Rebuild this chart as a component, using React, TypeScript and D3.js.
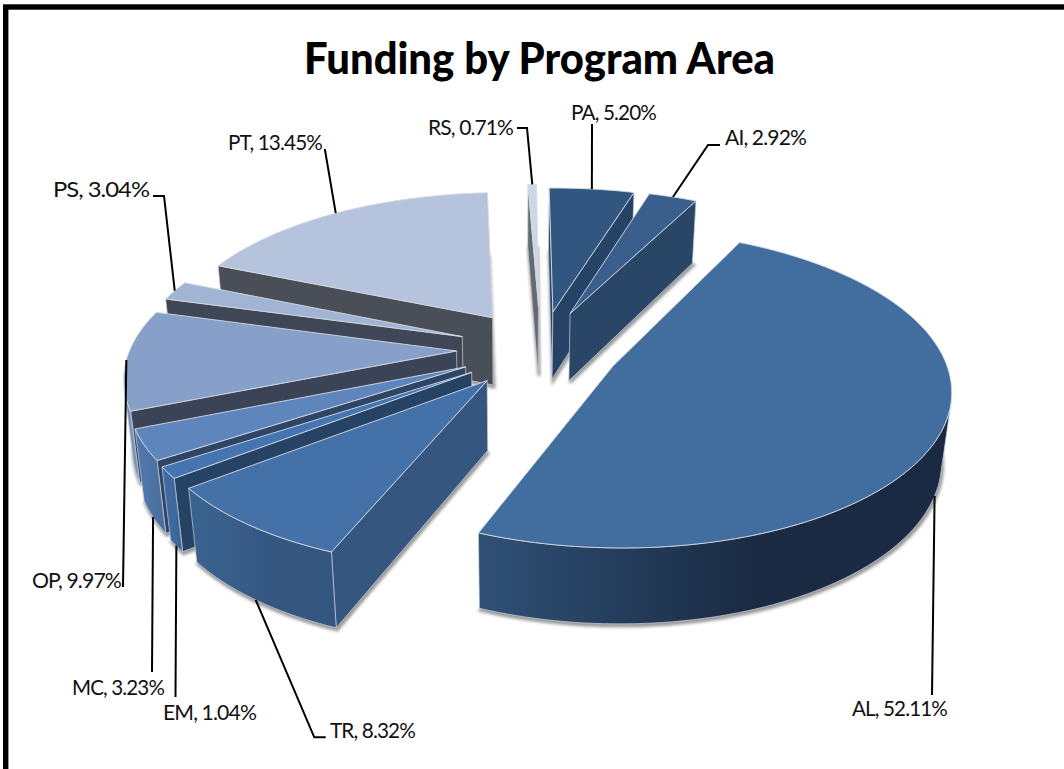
import React from "react";
import * as d3 from "d3";

// ---- data ----
const programs = ["PA", "AI", "AL", "TR", "EM", "MC", "OP", "PS", "PT", "RS"];
const shares = [5.2, 2.92, 52.11, 8.32, 1.04, 3.23, 9.97, 3.04, 13.45, 0.71];
const shareLabels = ["5.20%", "2.92%", "52.11%", "8.32%", "1.04%", "3.23%", "9.97%", "3.04%", "13.45%", "0.71%"];
const titleText = "Funding by Program Area";

// ---- camera and layout calibration ----
const camX = [327.7, 73.4, -11.7, 544.5];
const camY = [-2.7, -101.7, -78.2, 348.6];
const camW = [0, 0.1407, -0.0228, 1];
const trueAngles = [0, 18.72, 29.23, 216.83, 246.78, 250.52, 262.15, 298.04, 308.98, 357.4, 360];
const viewAngles = [0, 17.6, 27.6, 202.7, 233, 237.3, 248.8, 286.4, 293.7, 358.2, 360];
const explodeU = [0.029, 0.083, 0.204, -0.172, -0.219, -0.238, -0.268, -0.253, -0.161, -0.016];
const explodeV = [0.252, 0.239, -0.118, -0.203, -0.15, -0.115, -0.011, 0.085, 0.214, 0.288];

const topFill = ["#31567f", "#3b5f8d", "#416d9f", "#4472a8", "#4475b0", "#5f86bc", "#86a0c9", "#a1b4d4", "#b6c3dc", "#cbd7e8"];
const cutFill = ["#264365", "#294666", "#1f3550", "#34567f", "#264366", "#2e4565", "#3b4356", "#3f4656", "#4a4e57", "#66696e"];
const wallFrom = ["#264365", "#294666", "#2f5075", "#3a628f", "#3f6aa0", "#5077ac", "#7a92b8", "#6d7f9f", "#4a4e57", "#66696e"];
const wallTo = ["#264365", "#294666", "#1a2a42", "#34567f", "#3c669b", "#4b70a0", "#6f87ad", "#6d7f9f", "#4a4e57", "#66696e"];
const paintOrder = [9, 0, 1, 8, 7, 6, 5, 4, 3, 2];

// label: x, baseline, width; leader: depth at start, then elbow points
const labelX = [571, 725, 852, 330, 163, 72, 32, 53, 228, 428];
const labelY = [120, 145, 716, 738, 720, 695, 588, 197, 150, 135];
const labelW = [85, 81, 95, 85, 93, 92, 89, 96, 94, 85];
const leaderZ = [0, 0, -1, -1, -1, -1, 0, 0, 0, 0];
const leaderT = [0.5, 0.5, 0.48, 0.5, 0.5, 0.5, 0.5, 0.5, 0.5, 0.5];
const leaderElbows: number[][][] = [
  [[592, 124]],
  [[708, 145], [720, 145]],
  [[932, 695]],
  [[314.3, 737.3], [325.7, 737.3]],
  [[175.5, 697]],
  [[152, 672]],
  [[123, 587]],
  [[164, 196], [153, 196]],
  [[325, 150], [324, 150]],
  [[527, 128], [517, 128]],
];

const FONT = "Lato, 'Open Sans', sans-serif";
const RAD = Math.PI / 180;
const warp = d3.scaleLinear().domain(trueAngles).range(viewAngles);
const dot = (c: number[], u: number, v: number, z: number) => c[0] * u + c[1] * v + c[2] * z + c[3];
const project = (i: number, deg: number | null, z: number): [number, number] => {
  const a = deg === null ? null : deg * RAD;
  const u = explodeU[i] + (a === null ? 0 : Math.sin(a));
  const v = explodeV[i] + (a === null ? 0 : Math.cos(a));
  const w = dot(camW, u, v, z);
  return [dot(camX, u, v, z) / w, dot(camY, u, v, z) / w];
};
const area = (p: [number, number][]) => d3.polygonArea(p);
const line = d3.line();
const closed = (p: [number, number][]) => line(p) + "Z";

export default function App() {
  const arcs = d3.pie<number>().sort(null).value((d) => d)(shares);
  const slices = arcs.map((arc, i) => {
    const a0 = warp(arc.startAngle / RAD);
    const a1 = warp(arc.endAngle / RAD);
    const steps = Math.max(4, Math.ceil((a1 - a0) / 1.5));
    const angles = d3.range(steps + 1).map((t) => a0 + ((a1 - a0) * t) / steps);
    const top = angles.map((a) => project(i, a, 0));
    const bot = angles.map((a) => project(i, a, -1));
    const apexT = project(i, null, 0);
    const apexB = project(i, null, -1);
    const faces: { d: string; fill: string }[] = [];
    const cut = (p: [number, number], q: [number, number], p2: [number, number], q2: [number, number]) => {
      const quad: [number, number][] = [p, q, q2, p2];
      if (area(quad) > 0) faces.push({ d: closed(quad), fill: cutFill[i] });
    };
    cut(apexT, top[0], apexB, bot[0]);
    cut(top[steps], apexT, bot[steps], apexB);
    // rim wall: keep only the runs that face the camera
    let run: number[] = [];
    const runs: number[][] = [];
    for (let k = 0; k < steps; k++) {
      const visible = area([top[k], top[k + 1], bot[k + 1], bot[k]]) > 0;
      if (visible) run.push(k);
      else if (run.length) { runs.push(run); run = []; }
    }
    if (run.length) runs.push(run);
    const walls = runs.map((r) => {
      const idx = [...r, r[r.length - 1] + 1];
      return closed([...idx.map((k) => top[k]), ...idx.slice().reverse().map((k) => bot[k])]);
    });
    const xs = d3.extent(bot, (p) => p[0]) as [number, number];
    const tm = a0 + (a1 - a0) * leaderT[i];
    return {
      i, xs, walls, faces,
      topD: closed([apexT, ...top]),
      botD: closed([apexB, ...bot]),
      anchor: project(i, tm, leaderZ[i]),
    };
  });
  return (
    <svg width={1064} height={769} style={{ position: "absolute", left: 0, top: 0, background: "#fff" }}>
      <defs>
        <filter id="soft" x="-20%" y="-20%" width="140%" height="140%">
          <feGaussianBlur stdDeviation={1.8} />
        </filter>
        {slices.map((s) => (
          <linearGradient key={s.i} id={`wall${s.i}`} gradientUnits="userSpaceOnUse" x1={s.xs[0]} x2={s.xs[1]} y1={0} y2={0}>
            <stop offset={0} stopColor={wallFrom[s.i]} />
            <stop offset={0.6} stopColor={wallTo[s.i]} />
            <stop offset={1} stopColor={wallTo[s.i]} />
          </linearGradient>
        ))}
      </defs>
      <rect x={5.7} y={7} width={1200} height={1000} fill="none" stroke="#000" strokeWidth={5.4} />
      <text x={304} y={74} fontFamily={FONT} fontWeight={900} fontSize={43} textLength={471} lengthAdjust="spacingAndGlyphs" fill="#000">
        {titleText}
      </text>
      {paintOrder.map((i) => {
        const s = slices[i];
        return (
          <g key={i}>
            <path d={s.botD} fill="#555" stroke="#555" strokeWidth={3} opacity={0.6} filter="url(#soft)" transform="translate(1,2)" />
            {s.faces.map((f, k) => (
              <path key={k} d={f.d} fill={f.fill} stroke="#c9d0da" strokeWidth={0.7} strokeLinejoin="round" />
            ))}
            {s.walls.map((d, k) => (
              <path key={k} d={d} fill={`url(#wall${i})`} stroke="#c9d0da" strokeWidth={0.7} strokeLinejoin="round" />
            ))}
            <path d={s.topD} fill={topFill[i]} stroke="#d5dbe4" strokeWidth={0.9} strokeLinejoin="round" />
          </g>
        );
      })}
      {slices.map((s) => (
        <polyline
          key={s.i}
          points={[s.anchor, ...leaderElbows[s.i]].map((p) => p.join(",")).join(" ")}
          fill="none"
          stroke="#000"
          strokeWidth={2}
        />
      ))}
      {programs.map((p, i) => (
        <text key={p} x={labelX[i]} y={labelY[i]} fontFamily={FONT} fontSize={21.5} letterSpacing={-0.9} textLength={labelW[i]} lengthAdjust="spacingAndGlyphs" fill="#111">
          {`${p}, ${shareLabels[i]}`}
        </text>
      ))}
    </svg>
  );
}
